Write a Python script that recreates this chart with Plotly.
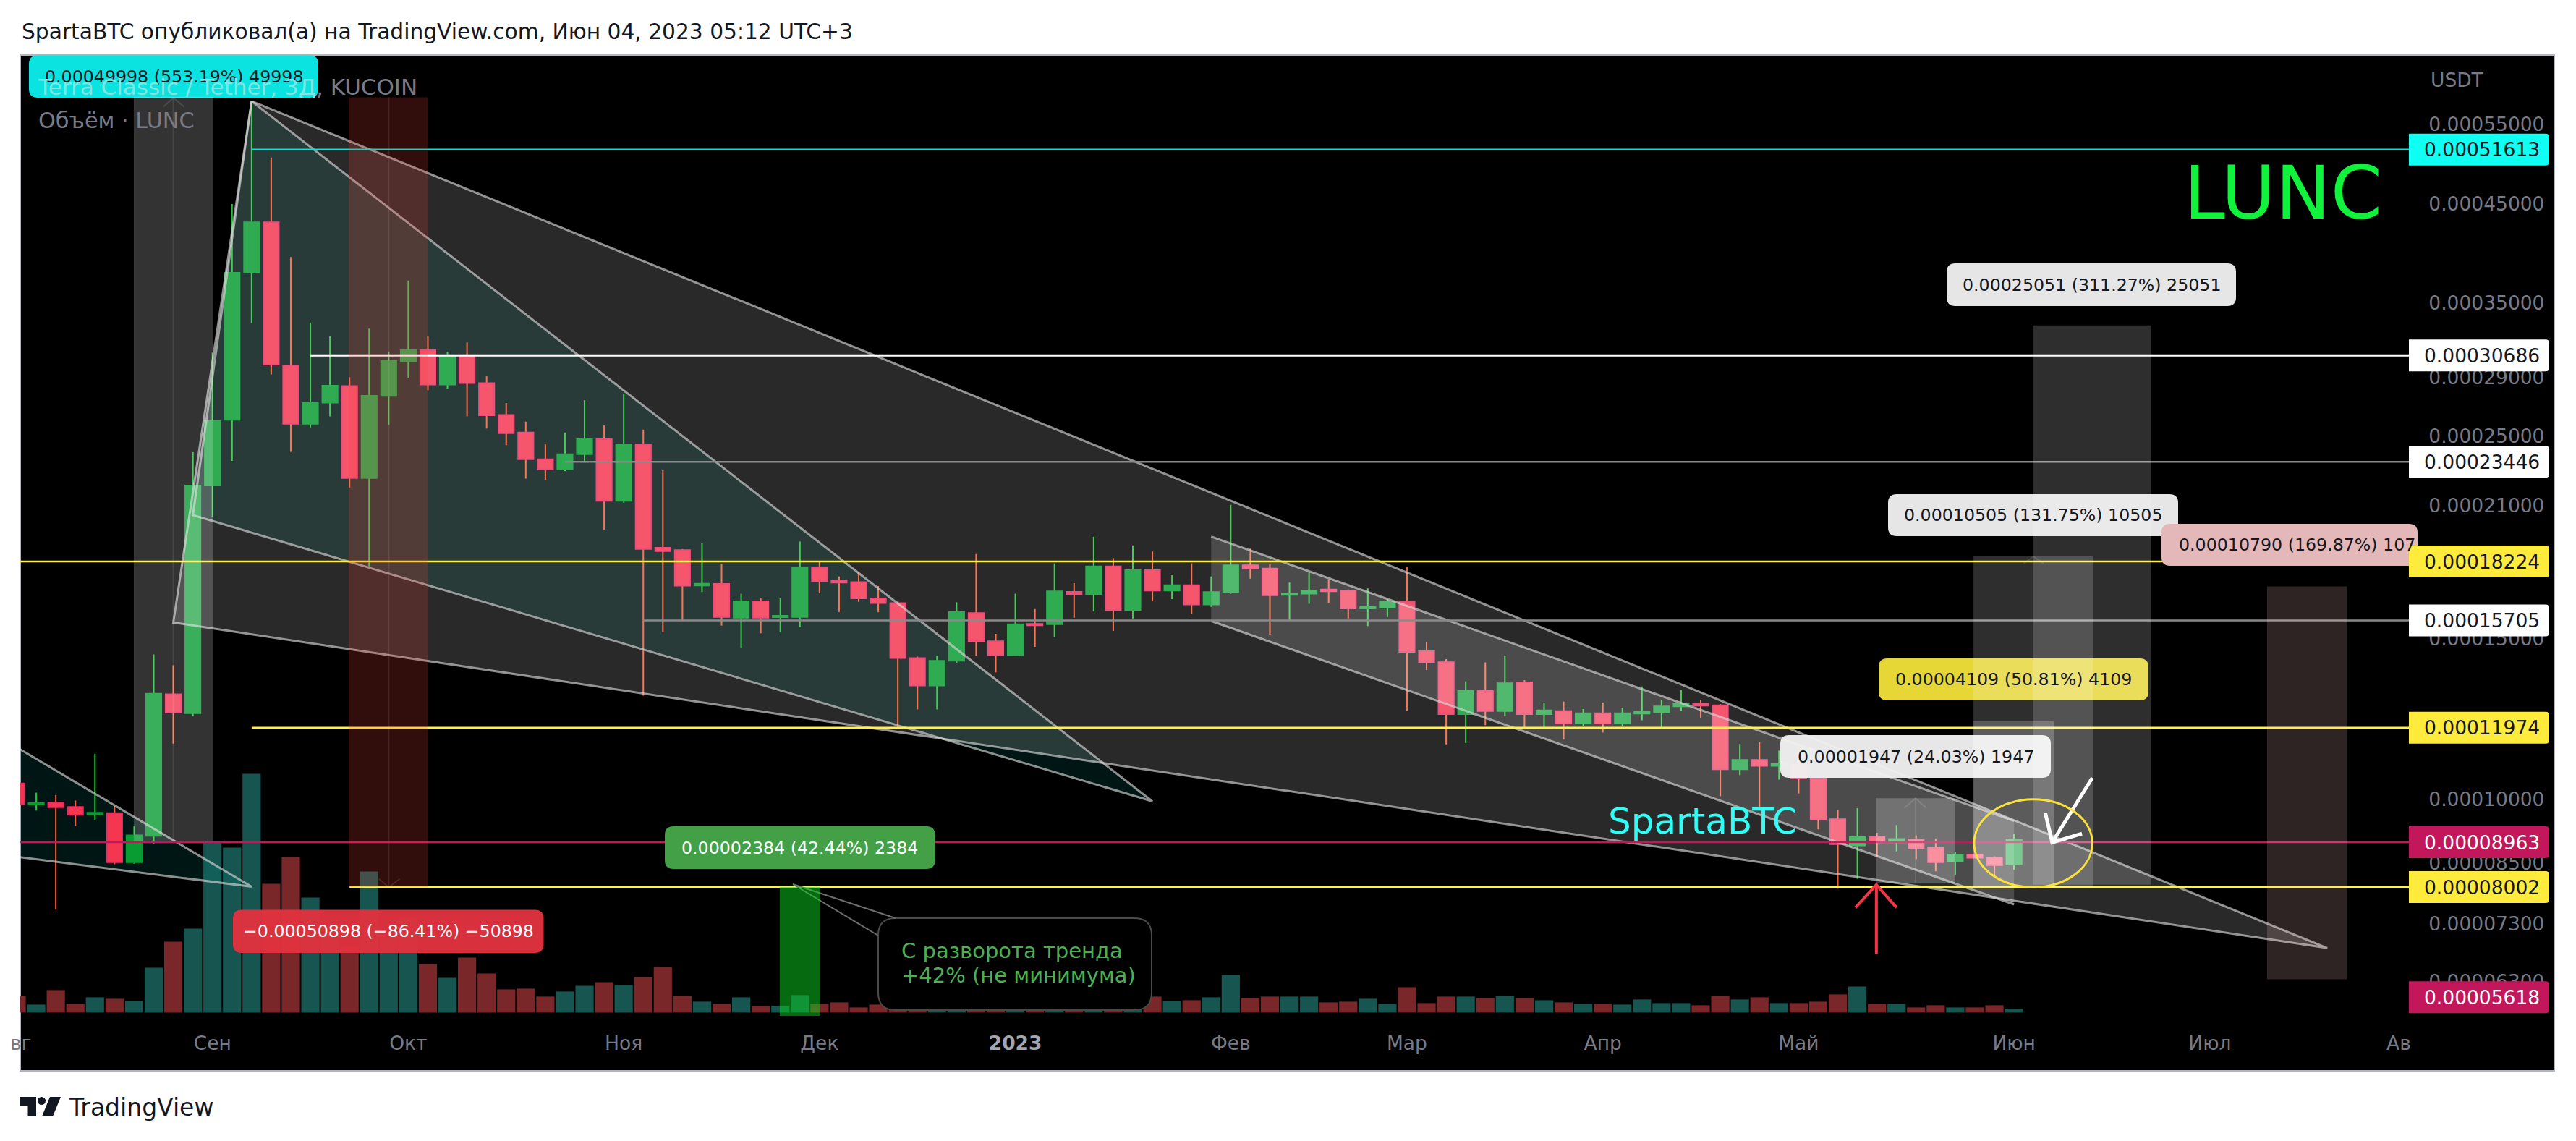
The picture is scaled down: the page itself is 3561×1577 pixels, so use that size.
#recreate the LUNC/USDT 3 day TradingView idea chart with plotly
import math
import plotly.graph_objects as go

#%%
#candles, every value in units of 0.00001 USDT, one bar per 3 days
opens = [10.40,9.86,9.91,9.80,9.62,9.65,8.52,9.11,13.03,12.42,
    22.08,26.07,37.8,42.96,29.91,25.81,27.23,28.4,22.5,27.69,
    30.22,31.1,28.5,30.6,28.6,26.4,25.25,23.6,23.0,23.9,
    24.83,21.24,24.5,18.87,18.76,17.15,17.22,15.81,16.48,15.83,
    15.84,17.93,17.36,17.3,16.6,16.41,14.28,13.32,14.18,16.0,
    14.9,14.38,15.57,15.55,16.88,16.78,18.0,16.12,17.83,16.93,
    17.17,16.35,16.87,18.05,17.9,16.75,16.8,16.98,16.93,16.18,
    16.21,16.47,14.53,14.13,12.39,13.14,12.49,13.43,12.39,12.49,
    12.1,12.42,12.1,12.41,12.44,12.64,12.73,12.67,10.78,11.04,
    10.87,10.9,10.53,9.5,8.89,9.08,8.96,9.03,8.84,8.54,
    8.69,8.62,8.47]
highs = [10.50,10.16,10.10,9.96,11.21,9.82,9.33,14.41,14.02,24.02,
    30.9,44.98,58.3,50.6,39.35,33.33,32.2,29.04,32.83,30.96,
    37.07,32.2,30.96,31.7,29.1,27.2,25.95,24.5,25.25,27.4,
    25.7,27.85,25.44,22.95,18.81,19.08,18.12,16.8,16.63,16.6,
    19.17,18.25,17.55,17.73,17.13,16.47,14.33,14.36,16.44,18.57,
    15.18,16.8,16.16,18.14,17.25,19.4,18.38,18.98,18.69,17.6,
    18.14,17.55,21.03,18.83,18.1,17.28,17.75,17.39,16.98,17.03,
    16.57,17.97,14.86,14.24,13.46,14.12,14.37,13.5,12.76,12.79,
    12.55,12.76,12.59,13.29,12.84,13.17,12.83,12.71,11.49,11.54,
    11.3,11.23,10.6,9.72,9.77,9.18,9.36,9.12,9.05,8.75,
    8.69,8.65,9.16]
lows = [9.87,9.71,7.56,9.34,9.47,8.48,8.49,8.93,11.50,12.33,
    20.41,23.5,33.3,29.24,24.04,25.58,26.3,21.97,17.98,25.74,
    29.0,28.1,28.2,26.3,25.5,24.45,22.47,22.4,22.9,23.45,
    19.75,21.15,12.98,15.25,15.71,16.87,15.5,14.65,15.2,15.26,
    15.44,16.82,16.04,16.46,16.03,11.98,12.54,12.54,14.11,14.36,
    13.77,14.36,14.69,15.06,15.81,16.07,15.29,15.78,16.48,16.57,
    15.96,16.25,16.8,17.45,15.15,15.7,16.38,16.41,15.78,15.48,
    15.84,12.5,13.85,11.48,11.52,12.05,12.33,11.95,11.96,11.62,
    12.03,11.83,12.01,12.2,11.98,12.49,12.28,10.07,10.62,9.8,
    10.5,10.14,9.26,7.97,8.17,8.63,8.76,8.59,8.33,8.26,
    8.62,8.22,8.36]
closes = [9.87,9.90,9.79,9.61,9.66,8.52,9.12,13.05,12.44,22.08,
    26.0,37.8,42.96,29.97,25.81,27.20,28.43,22.5,27.71,30.25,
    31.1,28.5,30.6,28.6,26.37,25.2,23.6,23.0,23.9,24.83,
    21.24,24.5,18.81,18.71,17.14,17.23,15.84,16.48,15.81,15.89,
    17.93,17.34,17.28,16.6,16.41,14.28,13.32,14.18,16.04,14.9,
    14.38,15.55,15.51,16.9,16.78,18.0,16.12,17.83,16.93,17.17,
    16.35,16.87,18.05,17.9,16.73,16.81,16.93,16.9,16.18,16.24,
    16.47,14.5,14.13,12.39,13.14,12.49,13.4,12.39,12.51,12.1,
    12.42,12.1,12.42,12.47,12.64,12.72,12.66,10.78,11.04,10.87,
    10.92,10.53,9.5,8.92,9.08,8.96,9.04,8.83,8.52,8.69,
    8.62,8.46,9.03]
#volume in relative units (no volume scale is printed on the chart)
volumes = [23,11,31,12,21,19,16,62,98,116,
    237,228,330,178,215,159,109,92,195,107,
    131,67,48,76,54,32,33,22,29,37,
    42,38,49,63,23,15,12,21,9,9,
    24,12,14,7,11,8,8,6,8,7,
    6,8,6,7,8,6,7,7,22,16,
    17,21,52,20,22,22,22,14,15,19,
    12,35,13,22,22,20,23,20,17,14,
    12,12,11,18,13,13,10,23,18,21,
    13,13,15,25,36,12,12,7,10,7,
    7,10,5]
bar_index = list(range(len(opens)))

month_ticks = [10,20,31,41,51,62,71,81,91,102,112]
month_labels = ['Сен','Окт','Ноя','Дек','<span style="color:#a3a6af;font-weight:bold">2023</span>','Фев','Мар','Апр','Май','Июн','Июл']

price_ticks = [55,45,35,29,25,21,15,10,8.5,7.3,6.3]
price_tick_labels = ['0.00055000','0.00045000','0.00035000','0.00029000','0.00025000','0.00021000','0.00015000','0.00010000','0.00008500','0.00007300','0.00006300']

#horizontal levels: price, first bar, colour, width
level_prices = [51.613,30.686,23.446,18.224,15.705,11.974,8.963,8.002]
level_starts = [12,15,28,-1,32,12,-1,17]
level_colors = ['#00e5dc','#ffffff','#8a8a8a','#fff04a','#8a8a8a','#fff04a','#c2185b','#fff04a']
level_widths = [2.5,3,2.5,2.5,2.5,2.5,2.5,3]

#price tags on the axis, the last one is pushed up from its real price
tag_labels = ['0.00051613','0.00030686','0.00023446','0.00018224','0.00015705','0.00011974','0.00008963','0.00008002','0.00005618']
tag_prices = [51.613,30.686,23.446,18.224,15.705,11.974,8.963,8.002,6.06]
tag_colors = ['#0ffff2','#ffffff','#ffffff','#ffeb3b','#ffffff','#ffeb3b','#c2185b','#ffeb3b','#c2185b']
tag_text_colors = ['#131722','#131722','#131722','#131722','#131722','#131722','#ffffff','#131722','#ffffff']

#drawings: bar position and price of the corners
wedge_x = [12,118,8,12]
wedge_y = [58.33,6.86,15.62,58.33]
teal_x = [12,58,9,12]
teal_y = [58.33,9.94,20.49,58.33]
left_teal_x = [-4.54,12,-4.54]
left_teal_y = [13.02,8.01,8.89]
channel_x = [61,102,102,61,61]
channel_y = [19.41,9.46,7.66,15.68,19.41]

#rectangles: left, right, top, bottom, fill
rect_left = [5.98,16.96,94.94,99.93,99.93,102.96,114.92,38.97]
rect_right = [10.03,21.0,99.0,104.03,106.02,109.0,119.0,41.04]
rect_top = [58.99,58.9,10.02,12.17,18.46,33.1,17.11,8.002]
rect_bottom = [8.99,8.002,8.09,8.0,8.0,8.05,6.34,5.618]
rect_fill = ['rgba(255,255,255,0.2)','rgba(244,67,54,0.2)','rgba(255,255,255,0.22)','rgba(255,255,255,0.22)','rgba(255,255,255,0.18)','rgba(255,255,255,0.18)','rgba(255,200,200,0.18)','rgba(10,212,32,0.5)']
rect_mids = [8.0,19.0,96.97]
rect_mid_tops = [58.84,58.84,10.02]
rect_mid_bottoms = [8.99,8.0,8.09]

#small chevrons in the middle of the ranges
chevrons_x = [[7.49,8,8.56],[18.5,19,19.56],[96.4,96.97,97.5],[102.5,103,103.5]]
chevrons_y = [[57.5,58.84,57.5],[8.17,8.0,8.17],[9.78,10.02,9.78],[18.13,18.46,18.13]]

red_arrow_x = [94.97,94.97,93.9,94.97,96.0]
red_arrow_y = [6.76,8.05,7.6,8.05,7.6]
white_arrow_x = [106.0,103.95,103.6,103.95,105.47]
white_arrow_y = [10.55,8.96,9.65,8.96,9.16]

#pane geometry in page pixels
FRAME_L, FRAME_R, FRAME_T, FRAME_B = 28, 3531, 76, 1480
AXIS_X, PANE_B = 3330, 1404
TOP_PRICE, BOTTOM_PRICE = 65.56, 5.78
FONT = 'DejaVu Sans'
GREY = '#787b86'
DARK = '#131722'
LINE_GREY = 'rgba(215,215,215,0.65)'

#%%
def px(x):
    return (x - FRAME_L) / (FRAME_R - FRAME_L)

def py(y):
    return (FRAME_B - y) / (FRAME_B - FRAME_T)

def price_y(price):
    top, bottom = math.log10(TOP_PRICE), math.log10(BOTTOM_PRICE)
    return FRAME_T + (top - math.log10(price)) / (top - bottom) * (PANE_B - FRAME_T)

#rounded box as a paper path
def round_box(x0, x1, y0, y1, r=12, r_left=None):
    rl = r if r_left is None else r_left
    return ('M {} {} L {} {} Q {} {} {} {} L {} {} Q {} {} {} {} L {} {} Q {} {} {} {} L {} {} Q {} {} {} {} Z'.format(
        px(x0 + rl), py(y0), px(x1 - r), py(y0), px(x1), py(y0), px(x1), py(y0 + r),
        px(x1), py(y1 - r), px(x1), py(y1), px(x1 - r), py(y1),
        px(x0 + rl), py(y1), px(x0), py(y1), px(x0), py(y1 - rl),
        px(x0), py(y0 + rl), px(x0), py(y0), px(x0 + rl), py(y0)))

fig = go.Figure()
up = [c >= o for o, c in zip(opens, closes)]

def add_line(x, y, color, width=2.5, fill=None, axis='y4'):
    fig.add_trace(go.Scatter(x=x, y=y, yaxis=axis, mode='lines', line=dict(color=color, width=width),
        fill='toself' if fill else None, fillcolor=fill, hoverinfo='skip'))

#layers from the bottom: volume (y2), teal fills (y), candles (y3), other drawings (y4)
fig.add_trace(go.Bar(x=bar_index, y=volumes, yaxis='y2', width=0.93,
    marker=dict(color=['#165550' if u else '#7a272a' for u in up], line_width=0)))

add_line(teal_x, teal_y, 'rgba(0,0,0,0)', 0, 'rgba(0,150,136,0.15)', 'y')
add_line(left_teal_x, left_teal_y, 'rgba(0,0,0,0)', 0, 'rgba(0,150,136,0.15)', 'y')

#wicks and bodies are thin and wide bars so a body covers its wick
fig.add_trace(go.Bar(x=bar_index, base=lows, y=[h - l for h, l in zip(highs, lows)], width=0.075, yaxis='y3',
    marker=dict(color=['#1fc435' if u else '#fa5a32' for u in up], line_width=0)))
fig.add_trace(go.Bar(x=bar_index, base=[min(o, c) for o, c in zip(opens, closes)], yaxis='y3',
    y=[abs(o - c) for o, c in zip(opens, closes)], width=0.78,
    marker=dict(color=['#089c32' if u else '#f43650' for u in up],
        line=dict(color=['#089c32' if u else '#ee2a66' for u in up], width=2))))

for i in range(len(rect_mids)):
    add_line([rect_mids[i], rect_mids[i]], [rect_mid_tops[i], rect_mid_bottoms[i]], 'rgba(255,255,255,0.1)', 2)
for x, y in zip(chevrons_x, chevrons_y):
    add_line(x, y, 'rgba(255,255,255,0.12)', 2)

add_line(wedge_x, wedge_y, LINE_GREY, 3, 'rgba(255,255,255,0.16)')
add_line(teal_x, teal_y, LINE_GREY, 3)
add_line(left_teal_x, left_teal_y, LINE_GREY, 3)
#channel: the fill has no outline, only the two long sides are stroked
add_line(channel_x, channel_y, 'rgba(0,0,0,0)', 0, 'rgba(255,255,255,0.16)')
add_line(channel_x[:2], channel_y[:2], LINE_GREY, 3)
add_line(channel_x[2:4], channel_y[2:4], LINE_GREY, 3)

for price, start, color, width in zip(level_prices, level_starts, level_colors, level_widths):
    add_line([start, 123], [price, price], color, width)

add_line(red_arrow_x, red_arrow_y, '#f23645', 4)
add_line(white_arrow_x, white_arrow_y, '#ffffff', 5)

shapes = [
    #black chart frame, the axis strips sit on it
    dict(type='rect', xref='paper', yref='paper', x0=0, x1=1, y0=0, y1=1, layer='below',
        fillcolor='black', line=dict(color='#b2b5be', width=2)),
    #callout box for the green range
    dict(type='path', xref='paper', yref='paper', layer='above', path=round_box(1214, 1592, 1269, 1396, 24),
        fillcolor='black', line=dict(color='#4a4a4a', width=2)),
    dict(type='line', xref='paper', yref='paper', layer='above', x0=px(1096), y0=py(1222), x1=px(1238), y1=py(1269), line=dict(color='#6e6e6e', width=2)),
    dict(type='line', xref='paper', yref='paper', layer='above', x0=px(1096), y0=py(1222), x1=px(1214), y1=py(1293), line=dict(color='#6e6e6e', width=2)),
]
annotations = []

def add_text(x, y, text, color, size=23.7, anchor='center'):
    annotations.append(dict(xref='paper', yref='paper', x=px(x), y=py(y), text=text, showarrow=False,
        xanchor=anchor, yanchor='middle', font=dict(family=FONT, size=size, color=color), align='left'))

#floating measure labels: left, right, top, bottom, fill, text colour, text
label_boxes = [
    (40, 440, 76.5, 135, '#0ae3df', DARK, '0.00049998 (553.19%) 49998'),
    (322, 751.5, 1257.5, 1317, 'rgba(226,50,64,0.96)', '#ffffff', '−0.00050898 (−86.41%) −50898'),
    (919, 1292.6, 1142, 1201, '#43a047', '#ffffff', '0.00002384 (42.44%) 2384'),
    (2461, 2835, 1016, 1075, 'rgba(240,240,240,0.96)', DARK, '0.00001947 (24.03%) 1947'),
    (2597, 2970, 910, 968, '#e6d636', DARK, '0.00004109 (50.81%) 4109'),
    (2610, 3011, 683, 741, '#e6e6e6', DARK, '0.00010505 (131.75%) 10505'),
    (2691, 3091, 364, 423, '#e6e6e6', DARK, '0.00025051 (311.27%) 25051'),
]
for x0, x1, y0, y1, fill, text_color, text in label_boxes:
    shapes.append(dict(type='path', xref='paper', yref='paper', layer='above', path=round_box(x0, x1, y0, y1),
        fillcolor=fill, line_width=0))
    add_text((x0 + x1) / 2, (y0 + y1) / 2, text, text_color)

#this one runs under the price axis so its text is cut
shapes.append(dict(type='path', xref='paper', yref='paper', layer='above', path=round_box(2988, AXIS_X + 12, 724, 782),
    fillcolor='#e4b7b8', line_width=0))
add_text(3010, 753, '0.00010790 (169.87%) 107', DARK, anchor='left')

#ranges lie over the labels and lighten them
for i in range(len(rect_left)):
    shapes.append(dict(type='rect', xref='x', yref='y4', layer='above', x0=rect_left[i], x1=rect_right[i],
        y0=rect_bottom[i], y1=rect_top[i], fillcolor=rect_fill[i], line_width=0))
shapes.append(dict(type='circle', xref='x', yref='y4', x0=99.96, x1=106.0, y0=8.0, y1=9.99, layer='above',
    line=dict(color='#fbe13c', width=3)))

#price axis tags
for label, price, color, text_color in zip(tag_labels, tag_prices, tag_colors, tag_text_colors):
    y = price_y(price)
    shapes.append(dict(type='path', xref='paper', yref='paper', layer='above',
        path=round_box(AXIS_X, 3524, y - 22, y + 22, 5, 0.01), fillcolor=color, line_width=0))
    add_text(3431, y, label, text_color, 26.5)

#TradingView logo
logo_t, logo_b = 1516, 1543
shapes += [
    dict(type='path', xref='paper', yref='paper', layer='above', fillcolor=DARK, line_width=0,
        path='M {} {} L {} {} L {} {} L {} {} L {} {} L {} {} Z'.format(px(28), py(logo_t), px(50), py(logo_t), px(50), py(logo_b), px(38.5), py(logo_b), px(38.5), py(logo_t + 12), px(28), py(logo_t + 12))),
    dict(type='circle', xref='paper', yref='paper', layer='above', fillcolor=DARK, line_width=0,
        x0=px(52), x1=px(63), y0=py(logo_t + 11), y1=py(logo_t)),
    dict(type='path', xref='paper', yref='paper', layer='above', fillcolor=DARK, line_width=0,
        path='M {} {} L {} {} L {} {} L {} {} Z'.format(px(69), py(logo_t), px(84), py(logo_t), px(73), py(logo_b), px(58), py(logo_b))),
]

add_text(28, 43, 'SpartaBTC опубликовал(а) на TradingView.com, Июн 04, 2023 05:12 UTC+3', DARK, 29.7, 'left')
add_text(93, 1530, 'TradingView', DARK, 33, 'left')
add_text(50, 120, '<span style="color:#7fe6e3">Terra Classic / Tether, 3Д</span>, KUCOIN', GREY, 31, 'left')
add_text(51, 167, 'Объём · LUNC', GREY, 30.3, 'left')
add_text(3358, 111, 'USDT', GREY, 26.5, 'left')
add_text(3156, 266, 'LUNC', '#10f23c', 102)
add_text(2354, 1135, 'SpartaBTC', '#2ffdf6', 50)
add_text(1244, 1314, 'С разворота тренда', '#4caf50', 29, 'left')
add_text(1244, 1348, '+42% (не минимума)', '#4caf50', 29, 'left')
add_text(46, 1441, 'вг', GREY, 26.5, 'right')
add_text(3297, 1441, 'Ав', GREY, 26.5, 'left')

pane_bottom = py(PANE_B)
log_range = [math.log10(BOTTOM_PRICE), math.log10(TOP_PRICE)]
fig.update_layout(
    width=3561, height=1577,
    margin=dict(l=FRAME_L, r=3561 - FRAME_R, t=FRAME_T, b=1577 - FRAME_B, pad=0),
    paper_bgcolor='white', plot_bgcolor='black',
    barmode='overlay', showlegend=False,
    shapes=shapes, annotations=annotations,
    xaxis=dict(domain=[0, px(AXIS_X)], range=[(FRAME_L - 23) / 27.07, (AXIS_X - 23) / 27.07],
        tickvals=month_ticks, ticktext=month_labels, showgrid=False, zeroline=False,
        ticks='outside', ticklen=14, tickcolor='rgba(0,0,0,0)',
        tickfont=dict(family=FONT, size=26.5, color=GREY), anchor='y2'),
    yaxis=dict(type='log', domain=[pane_bottom, 1], overlaying='y2', side='right', anchor='x', range=log_range,
        tickvals=price_ticks, ticktext=price_tick_labels, showgrid=False, zeroline=False,
        ticks='outside', ticklen=21, tickcolor='rgba(0,0,0,0)',
        tickfont=dict(family=FONT, size=26.5, color=GREY)),
    yaxis2=dict(domain=[pane_bottom, 1], range=[-4.6, 1323.4], visible=False, anchor='x'),
    yaxis3=dict(type='log', domain=[pane_bottom, 1], overlaying='y2', range=log_range, visible=False, anchor='x'),
    yaxis4=dict(type='log', domain=[pane_bottom, 1], overlaying='y2', range=log_range, visible=False, anchor='x'),
)

fig.write_html('out.html', config={'displayModeBar': False}, post_script="document.body.style.margin='0';")
